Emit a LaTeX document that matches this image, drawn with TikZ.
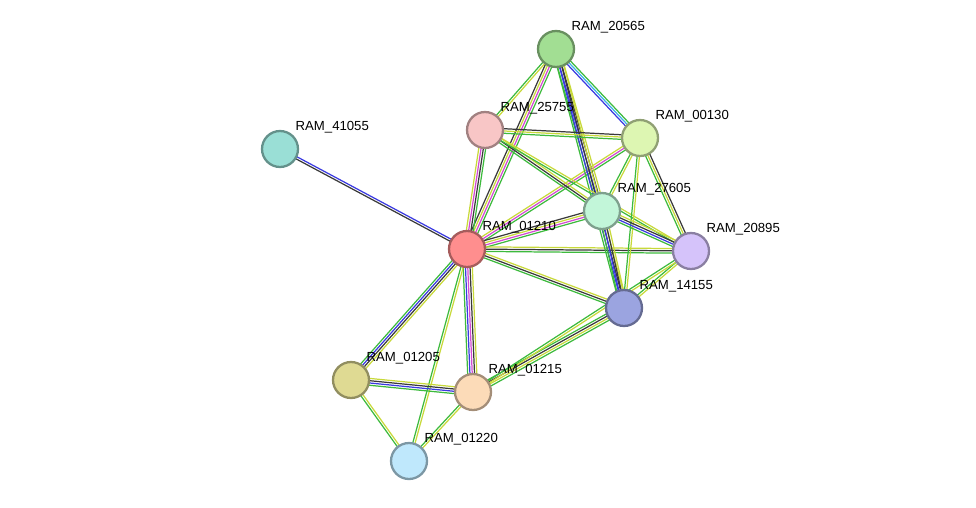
\documentclass[tikz,border=0pt]{standalone}
\usepackage{fontspec}
\setmainfont{Liberation Sans}
\usetikzlibrary{calc,backgrounds}
\definecolor{ngreen}{HTML}{3DBA3D}
\definecolor{tmyellow}{HTML}{C8D93A}
\definecolor{coblue}{HTML}{3A3AE0}
\definecolor{exmag}{HTML}{D34BD3}
\definecolor{dbcyan}{HTML}{3BB3E6}
\definecolor{cxblack}{HTML}{3A3A3A}
\newcommand\edge[4]{%
  \foreach \c [count=\i] in {#4}{%
    \draw[\c, line width=0.7pt]
      ($(#1.center)!{(\i-(#3+1)/2)*1.3pt}!90:(#2.center)$) --
      ($(#2.center)!{(\i-(#3+1)/2)*1.3pt}!-90:(#1.center)$);}}
\definecolor{c20565}{HTML}{A2DE93}
\definecolor{c25755}{HTML}{F8C6C6}
\definecolor{c00130}{HTML}{DDF6B2}
\definecolor{c41055}{HTML}{9ADFD6}
\definecolor{c27605}{HTML}{C2F6D9}
\definecolor{c01210}{HTML}{FF8E8E}
\definecolor{c20895}{HTML}{D5C3FA}
\definecolor{c14155}{HTML}{9BA4E0}
\definecolor{c01205}{HTML}{DFDA93}
\definecolor{c01215}{HTML}{FCDBB8}
\definecolor{c01220}{HTML}{BFE8FC}
\begin{document}
\begin{tikzpicture}[x=0.02cm, y=-0.02cm,
    prot/.style={circle, draw=#1!65!black, fill=#1, line width=1.3pt, minimum size=0.72cm, inner sep=0},
    lab/.style={font=\fontsize{7.5}{8}\selectfont, inner sep=1pt, label distance=0pt}]
\useasboundingbox (0,0) rectangle (976,507);

% proteins
\node[prot=c20565, label={[lab]45:RAM\_20565}] (p20565) at (556,49) {};
\node[prot=c25755, label={[lab]45:RAM\_25755}] (p25755) at (485,130) {};
\node[prot=c00130, label={[lab]45:RAM\_00130}] (p00130) at (640,138) {};
\node[prot=c41055, label={[lab]45:RAM\_41055}] (p41055) at (280,149) {};
\node[prot=c27605, label={[lab]45:RAM\_27605}] (p27605) at (602,211) {};
\node[prot=c01210, label={[lab]45:RAM\_01210}] (p01210) at (467,249) {};
\node[prot=c20895, label={[lab]45:RAM\_20895}] (p20895) at (691,251) {};
\node[prot=c14155, label={[lab]45:RAM\_14155}] (p14155) at (624,308) {};
\node[prot=c01205, label={[lab]45:RAM\_01205}] (p01205) at (351,380) {};
\node[prot=c01215, label={[lab]45:RAM\_01215}] (p01215) at (473,392) {};
\node[prot=c01220, label={[lab]45:RAM\_01220}] (p01220) at (409,461) {};

% interactions
\begin{scope}[on background layer]
\edge{p01210}{p41055}{2}{coblue,cxblack}
\edge{p01210}{p20565}{4}{ngreen,exmag,tmyellow,cxblack}
\edge{p01210}{p25755}{4}{ngreen,cxblack,exmag,tmyellow}
\edge{p01210}{p00130}{3}{ngreen,exmag,tmyellow}
\edge{p01210}{p27605}{4}{ngreen,exmag,tmyellow,cxblack}
\edge{p01210}{p20895}{3}{ngreen,cxblack,tmyellow}
\edge{p01210}{p14155}{3}{ngreen,cxblack,tmyellow}
\edge{p01210}{p01205}{4}{ngreen,coblue,cxblack,tmyellow}
\edge{p01210}{p01215}{5}{ngreen,coblue,exmag,cxblack,tmyellow}
\edge{p01210}{p01220}{2}{ngreen,tmyellow}
\edge{p20565}{p25755}{2}{ngreen,tmyellow}
\edge{p20565}{p00130}{3}{coblue,dbcyan,ngreen}
\edge{p20565}{p27605}{4}{ngreen,coblue,cxblack,tmyellow}
\edge{p20565}{p14155}{4}{ngreen,coblue,cxblack,tmyellow}
\edge{p25755}{p00130}{3}{ngreen,tmyellow,cxblack}
\edge{p25755}{p27605}{3}{ngreen,cxblack,tmyellow}
\edge{p25755}{p20895}{2}{ngreen,tmyellow}
\edge{p00130}{p27605}{2}{ngreen,tmyellow}
\edge{p00130}{p20895}{3}{ngreen,tmyellow,cxblack}
\edge{p00130}{p14155}{2}{ngreen,tmyellow}
\edge{p27605}{p20895}{4}{ngreen,coblue,cxblack,tmyellow}
\edge{p27605}{p14155}{4}{ngreen,coblue,cxblack,tmyellow}
\edge{p20895}{p14155}{2}{ngreen,tmyellow}
\edge{p14155}{p01215}{4}{ngreen,cxblack,tmyellow,ngreen}
\edge{p20895}{p01215}{2}{ngreen,tmyellow}
\edge{p01205}{p01215}{4}{ngreen,coblue,cxblack,tmyellow}
\edge{p01205}{p01220}{2}{ngreen,tmyellow}
\edge{p01215}{p01220}{2}{ngreen,tmyellow}
\end{scope}
\end{tikzpicture}
\end{document}
